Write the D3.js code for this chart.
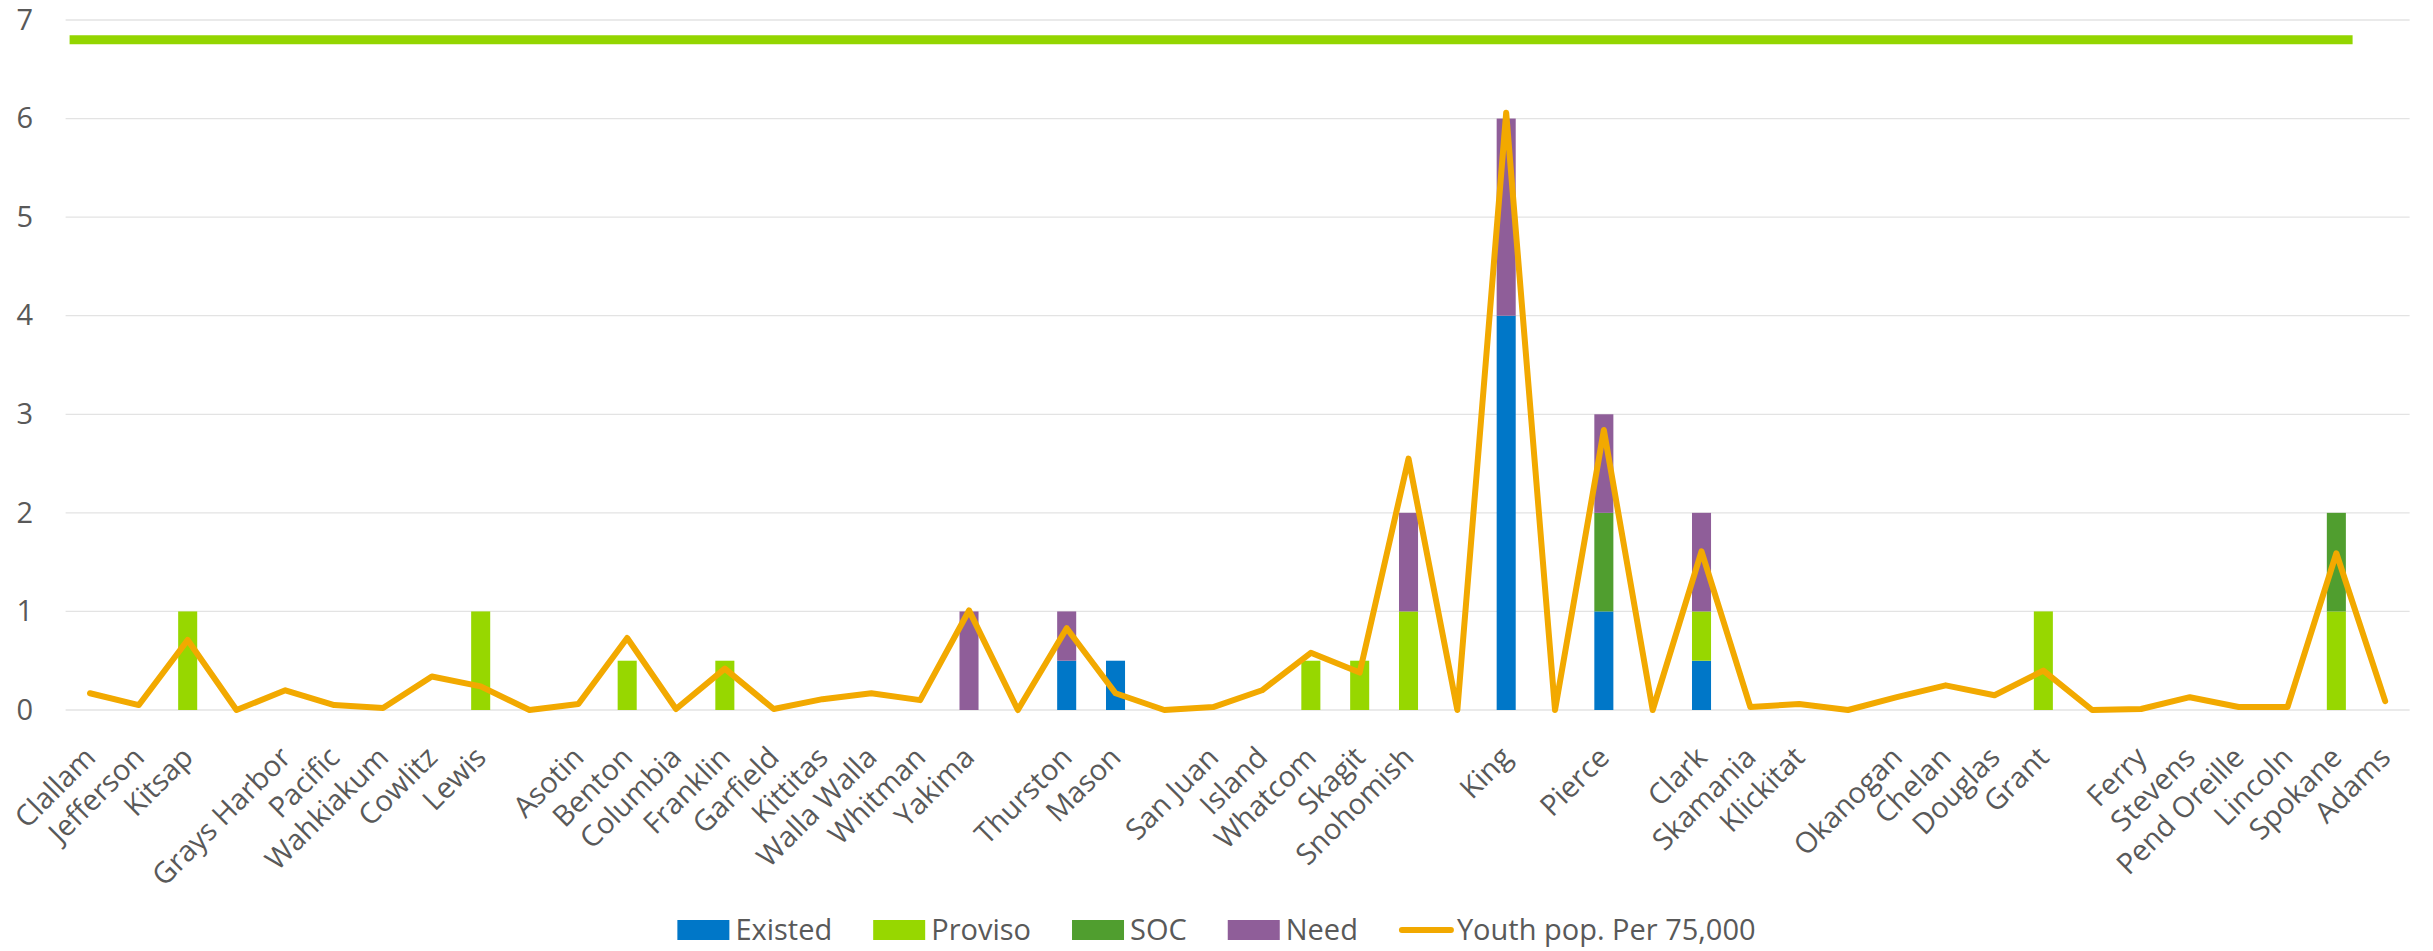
<!DOCTYPE html>
<html>
<head>
<meta charset="utf-8">
<script src="https://cdn.jsdelivr.net/npm/d3@7"></script>
<style>
  html, body { margin: 0; padding: 0; background: #ffffff; }
  svg { display: block; font-family: "Open Sans", "Noto Sans", sans-serif; }
</style>
</head>
<body>
<svg id="chart" width="2433" height="951"></svg>
<script>
// Counties in display order; empty strings are spacer slots between regions.
const categories = [
  "Clallam", "Jefferson", "Kitsap", "", "Grays Harbor", "Pacific", "Wahkiakum", "Cowlitz", "Lewis", "",
  "Asotin", "Benton", "Columbia", "Franklin", "Garfield", "Kittitas", "Walla Walla", "Whitman", "Yakima", "",
  "Thurston", "Mason", "", "San Juan", "Island", "Whatcom", "Skagit", "Snohomish", "", "King",
  "", "Pierce", "", "Clark", "Skamania", "Klickitat", "", "Okanogan", "Chelan", "Douglas",
  "Grant", "", "Ferry", "Stevens", "Pend Oreille", "Lincoln", "Spokane", "Adams"
];

const existed = [
  0, 0, 0, 0, 0, 0, 0, 0, 0, 0,
  0, 0, 0, 0, 0, 0, 0, 0, 0, 0,
  0.5, 0.5, 0, 0, 0, 0, 0, 0, 0, 4,
  0, 1, 0, 0.5, 0, 0, 0, 0, 0, 0,
  0, 0, 0, 0, 0, 0, 0, 0
];
const proviso = [
  0, 0, 1, 0, 0, 0, 0, 0, 1, 0,
  0, 0.5, 0, 0.5, 0, 0, 0, 0, 0, 0,
  0, 0, 0, 0, 0, 0.5, 0.5, 1, 0, 0,
  0, 0, 0, 0.5, 0, 0, 0, 0, 0, 0,
  1, 0, 0, 0, 0, 0, 1, 0
];
const soc = [
  0, 0, 0, 0, 0, 0, 0, 0, 0, 0,
  0, 0, 0, 0, 0, 0, 0, 0, 0, 0,
  0, 0, 0, 0, 0, 0, 0, 0, 0, 0,
  0, 1, 0, 0, 0, 0, 0, 0, 0, 0,
  0, 0, 0, 0, 0, 0, 1, 0
];
const need = [
  0, 0, 0, 0, 0, 0, 0, 0, 0, 0,
  0, 0, 0, 0, 0, 0, 0, 0, 1, 0,
  0.5, 0, 0, 0, 0, 0, 0, 1, 0, 2,
  0, 1, 0, 1, 0, 0, 0, 0, 0, 0,
  0, 0, 0, 0, 0, 0, 0, 0
];
// Youth population per 75,000
const youthPop = [
  0.17, 0.05, 0.71, 0, 0.2, 0.05, 0.02, 0.34, 0.24, 0,
  0.06, 0.73, 0.01, 0.42, 0.01, 0.11, 0.17, 0.1, 1.01, 0,
  0.83, 0.17, 0, 0.03, 0.2, 0.58, 0.38, 2.55, 0, 6.06,
  0, 2.84, 0, 1.61, 0.03, 0.06, 0, 0.13, 0.25, 0.15,
  0.4, 0, 0.01, 0.13, 0.03, 0.03, 1.59, 0.09
];
const yTicks = [0, 1, 2, 3, 4, 5, 6, 7];
const targetLevel = 6.8;

const seriesNames = ["Existed", "Proviso", "SOC", "Need"];
const seriesValues = [existed, proviso, soc, need];
const seriesColors = ["#0077C8", "#97D700", "#509E2F", "#8F5E99"];
const lineName = "Youth pop. Per 75,000";
const lineColor = "#F2A900";
const targetColor = "#93D500";
const textColor = "#595959";
const gridColor = "#E3E3E3";

const W = 2433, H = 951;
const plot = { left: 65.6, right: 2409.6, top: 20, bottom: 710 };

const svg = d3.select("#chart");
svg.append("rect").attr("width", W).attr("height", H).attr("fill", "#ffffff");

const idx = categories.map((_, i) => i);
const x = d3.scaleBand().domain(idx).range([plot.left, plot.right]).paddingInner(0.61).paddingOuter(0.305);
const xc = i => x(i) + x.bandwidth() / 2;
const y = d3.scaleLinear().domain([0, 7]).range([plot.bottom, plot.top]);

// Horizontal gridlines
svg.append("g")
  .selectAll("line")
  .data(yTicks)
  .join("line")
  .attr("x1", plot.left).attr("x2", plot.right)
  .attr("y1", d => y(d)).attr("y2", d => y(d))
  .attr("stroke", gridColor).attr("stroke-width", 1.3);

// Y axis labels
const yAxis = d3.axisLeft(y).tickValues(yTicks).tickSize(0).tickPadding(0).tickFormat(d3.format("d"));
const yg = svg.append("g").attr("transform", "translate(33,0)").call(yAxis);
yg.select(".domain").remove();
yg.selectAll("text").attr("fill", textColor).attr("font-size", 29)
  .attr("font-family", "'Open Sans', 'Noto Sans', sans-serif");

// Stacked bars
const rows = idx.map(i => {
  const r = { i };
  seriesNames.forEach((n, k) => r[n] = seriesValues[k][i]);
  return r;
});
const stacked = d3.stack().keys(seriesNames)(rows);
svg.append("g")
  .selectAll("g")
  .data(stacked)
  .join("g")
  .attr("fill", (d, k) => seriesColors[k])
  .selectAll("rect")
  .data(d => d.filter(s => s[1] - s[0] > 0))
  .join("rect")
  .attr("x", d => x(d.data.i))
  .attr("width", x.bandwidth())
  .attr("y", d => y(d[1]))
  .attr("height", d => y(d[0]) - y(d[1]));

// Category labels, rotated
const xg = svg.append("g");
xg.selectAll("text")
  .data(idx.filter(i => categories[i] !== ""))
  .join("text")
  .attr("transform", i => `translate(${xc(i)},${plot.bottom + 42}) rotate(-45)`)
  .attr("text-anchor", "end")
  .attr("dy", "0.35em")
  .attr("fill", textColor)
  .attr("font-size", 29)
  .text(i => categories[i]);

// Youth population line
const line = d3.line().x(i => xc(i)).y(i => y(youthPop[i]));
svg.append("path")
  .datum(idx)
  .attr("d", line)
  .attr("fill", "none")
  .attr("stroke", lineColor)
  .attr("stroke-width", 6)
  .attr("stroke-linejoin", "round")
  .attr("stroke-linecap", "round");

// Target level rule across the plot
svg.append("line")
  .attr("x1", plot.left + 4).attr("x2", plot.right - 57)
  .attr("y1", y(targetLevel)).attr("y2", y(targetLevel))
  .attr("stroke", targetColor).attr("stroke-width", 9);

// Legend
const legend = svg.append("g");
const legendItems = seriesNames.map((n, k) => ({ name: n, color: seriesColors[k], type: "rect" }))
  .concat([{ name: lineName, color: lineColor, type: "line" }]);
const keyW = 52, keyH = 20, keyGap = 6, itemGap = 41, legendY = 930;
let cursor = 0;
const placed = [];
legendItems.forEach(it => {
  const g = legend.append("g");
  if (it.type === "rect") {
    g.append("rect").attr("x", 0).attr("y", -keyH / 2).attr("width", keyW).attr("height", keyH).attr("fill", it.color);
  } else {
    g.append("line").attr("x1", 3).attr("x2", keyW).attr("y1", 0).attr("y2", 0)
      .attr("stroke", it.color).attr("stroke-width", 6).attr("stroke-linecap", "round");
  }
  const t = g.append("text").attr("x", keyW + keyGap).attr("y", 10)
    .attr("fill", textColor).attr("font-size", 29).text(it.name);
  const w = keyW + keyGap + t.node().getComputedTextLength();
  placed.push({ g, offset: cursor });
  cursor += w + itemGap;
});
const totalW = cursor - itemGap;
const startX = W / 2 - totalW / 2;
placed.forEach(p => p.g.attr("transform", `translate(${startX + p.offset},${legendY})`));
</script>
</body>
</html>
